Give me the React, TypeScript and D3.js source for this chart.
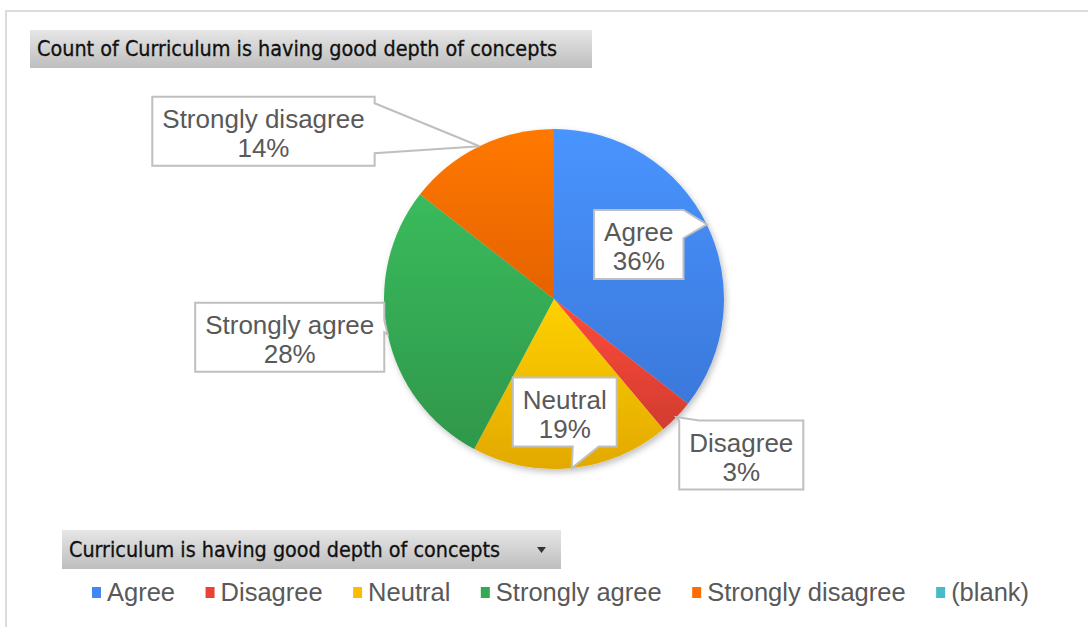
import { useEffect, useRef } from 'react';
import * as d3 from 'd3';

const title = 'Count of Curriculum is having good depth of concepts';
const legendTitle = 'Curriculum is having good depth of concepts';
const categories = ['Agree', 'Disagree', 'Neutral', 'Strongly agree', 'Strongly disagree'];
const counts = [32, 3, 17, 25, 13];
const legendLabels = ['Agree', 'Disagree', 'Neutral', 'Strongly agree', 'Strongly disagree', '(blank)'];
const colors = ['#4285F4', '#EA4335', '#FBBC04', '#34A853', '#FF6D01', '#46BDC6'];

// callout layout per slice: box centre offset from the tip, wedge side, wedge width and shift
const callouts = [
  { dx: -68, dy: 20, side: 'right', bw: 28, shift: -10 },
  { dx: 65, dy: 38, side: 'top', bw: 20, shift: 0 },
  { dx: -7, dy: -56, side: 'bottom', bw: 26, shift: 14 },
  { dx: -98, dy: 3, side: 'right', bw: 12, shift: -8 },
  { dx: -216, dy: -15, side: 'right', bw: 50, shift: -18 },
];

export default function App() {
  const ref = useRef<SVGSVGElement | null>(null);

  useEffect(() => {
    if (!ref.current) return;
    const width = 1088;
    const height = 627;
    const cx = 554;
    const cy = 299;
    const radius = 170;

    const root = d3.select(ref.current);
    root.selectAll('*').remove();
    const svg = root.attr('width', width).attr('height', height);
    const defs = svg.append('defs');

    // frame
    svg.append('path')
      .attr('d', `M6,${height} V11 H${width}`)
      .attr('fill', 'none')
      .attr('stroke', '#DCDCDC')
      .attr('stroke-width', 2);

    const hdr = defs.append('linearGradient').attr('id', 'hdr').attr('x1', 0).attr('y1', 0).attr('x2', 0).attr('y2', 1);
    hdr.append('stop').attr('offset', '0%').attr('stop-color', '#E6E6E6');
    hdr.append('stop').attr('offset', '100%').attr('stop-color', '#BEBEBE');

    // title box
    svg.append('rect').attr('x', 30).attr('y', 30).attr('width', 562).attr('height', 38).attr('fill', 'url(#hdr)');
    svg.append('text')
      .attr('x', 37).attr('y', 56)
      .attr('font-family', 'DejaVu Sans Condensed, DejaVu Sans')
      .attr('font-size', 21)
      .attr('textLength', 520)
      .attr('lengthAdjust', 'spacingAndGlyphs')
      .attr('fill', '#111')
      .attr('stroke', '#111')
      .attr('stroke-width', 0.3)
      .text(title);

    // pie
    const shadow = defs.append('filter').attr('id', 'shadow').attr('x', '-20%').attr('y', '-20%').attr('width', '140%').attr('height', '140%');
    shadow.append('feDropShadow').attr('dx', 2).attr('dy', 3).attr('stdDeviation', 3).attr('flood-color', '#000').attr('flood-opacity', 0.25);

    const pie = d3.pie<number>().sort(null).value(d => d);
    const arcs = pie(counts);
    const arc = d3.arc<d3.PieArcDatum<number>>().innerRadius(0).outerRadius(radius);

    arcs.forEach((a, i) => {
      const g = defs.append('linearGradient').attr('id', `sg${i}`).attr('x1', 0).attr('y1', 0).attr('x2', 0).attr('y2', 1);
      g.append('stop').attr('offset', '0%').attr('stop-color', d3.color(colors[i])!.brighter(0.3).formatHex());
      g.append('stop').attr('offset', '100%').attr('stop-color', d3.color(colors[i])!.darker(0.3).formatHex());
    });

    const pg = svg.append('g').attr('transform', `translate(${cx},${cy})`).attr('filter', 'url(#shadow)');
    pg.selectAll('path')
      .data(arcs)
      .join('path')
      .attr('d', arc)
      .attr('fill', (_, i) => `url(#sg${i})`);

    // callouts
    const total = d3.sum(counts);
    const labelFont = 'Liberation Sans, Arial, sans-serif';
    arcs.forEach((a, i) => {
      const mid = (a.startAngle + a.endAngle) / 2;
      const tx = cx + radius * Math.sin(mid);
      const ty = cy - radius * Math.cos(mid);
      const c = callouts[i];
      const bx = tx + c.dx;
      const by = ty + c.dy;
      const pct = `${Math.round((counts[i] / total) * 100)}%`;

      const g = svg.append('g');
      const path = g.append('path');
      const t1 = g.append('text').attr('x', bx).attr('y', by - 3).attr('text-anchor', 'middle')
        .attr('font-family', labelFont).attr('font-size', 26).attr('fill', '#595959').text(categories[i]);
      const t2 = g.append('text').attr('x', bx).attr('y', by + 26).attr('text-anchor', 'middle')
        .attr('font-family', labelFont).attr('font-size', 26).attr('fill', '#595959').text(pct);
      const w = Math.max(t1.node()!.getComputedTextLength(), t2.node()!.getComputedTextLength()) + 20;
      const h = 69;
      const x0 = bx - w / 2, x1 = bx + w / 2, y0 = by - h / 2, y1 = by + h / 2;
      let d = '';
      if (c.side === 'right') {
        const m = Math.max(y0 + c.bw / 2, Math.min(y1 - c.bw / 2, ty + c.shift));
        d = `M${x0},${y0}H${x1}V${m - c.bw / 2}L${tx},${ty}L${x1},${m + c.bw / 2}V${y1}H${x0}Z`;
      } else if (c.side === 'top') {
        const m = Math.max(x0 + c.bw / 2, Math.min(x1 - c.bw / 2, tx + c.shift));
        d = `M${x0},${y1}V${y0}H${m - c.bw / 2}L${tx},${ty}L${m + c.bw / 2},${y0}H${x1}V${y1}Z`;
      } else {
        const m = Math.max(x0 + c.bw / 2, Math.min(x1 - c.bw / 2, tx + c.shift));
        d = `M${x0},${y0}H${x1}V${y1}H${m + c.bw / 2}L${tx},${ty}L${m - c.bw / 2},${y1}H${x0}Z`;
      }
      path.attr('d', d).attr('fill', '#fff').attr('stroke', '#BFBFBF').attr('stroke-width', 2);
    });

    // legend header
    svg.append('rect').attr('x', 62).attr('y', 530).attr('width', 499).attr('height', 39).attr('fill', 'url(#hdr)');
    svg.append('text')
      .attr('x', 69).attr('y', 557)
      .attr('font-family', 'DejaVu Sans Condensed, DejaVu Sans')
      .attr('font-size', 21)
      .attr('textLength', 431)
      .attr('lengthAdjust', 'spacingAndGlyphs')
      .attr('fill', '#111')
      .attr('stroke', '#111')
      .attr('stroke-width', 0.3)
      .text(legendTitle);
    svg.append('path').attr('d', 'M537,547 h9 l-4.5,6 z').attr('fill', '#333');

    // legend items
    let lx = 92;
    legendLabels.forEach((lab, i) => {
      svg.append('rect').attr('x', lx).attr('y', 587).attr('width', 9).attr('height', 11).attr('fill', colors[i]);
      const t = svg.append('text').attr('x', lx + 15).attr('y', 601)
        .attr('font-family', labelFont).attr('font-size', 25.5).attr('fill', '#595959').text(lab);
      lx += 15 + t.node()!.getComputedTextLength() + 30.5;
    });
  }, []);

  return <svg ref={ref} style={{ position: 'absolute', left: 0, top: 0, background: '#fff' }} />;
}
